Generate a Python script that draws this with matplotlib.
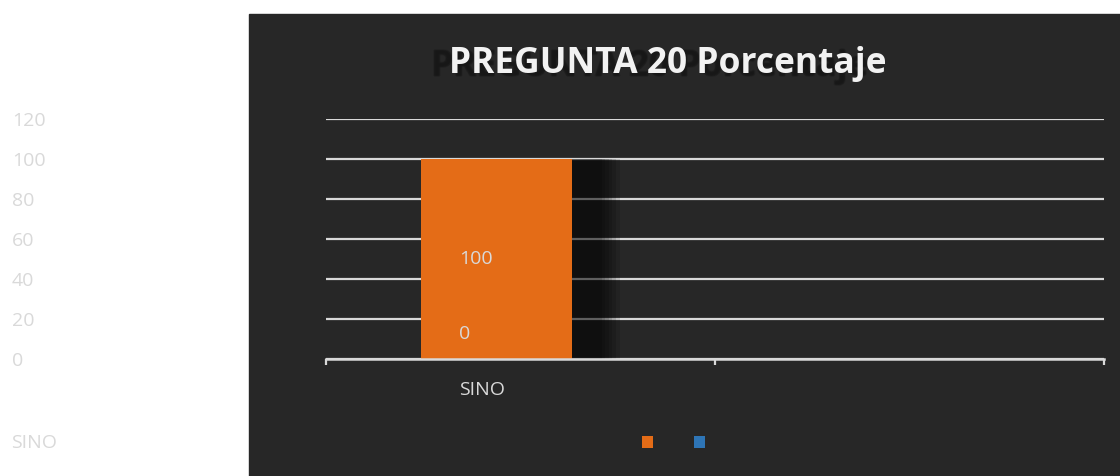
import matplotlib
matplotlib.use("Agg")
import matplotlib.pyplot as plt
from matplotlib.patches import Rectangle

# datos del grafico
categories = ["SINO"]
series_si = [100]
series_no = [0]
data_labels = ["100", "0"]
y_ticks = [0, 20, 40, 60, 80, 100, 120]
title = "PREGUNTA 20 Porcentaje"

ORANGE = "#E46C17"
BLUE = "#2E75B6"
PANEL = "#272727"
LIGHT = "#d9d9d9"

plt.rcParams["font.family"] = ["Open Sans", "DejaVu Sans"]

W, H = 1120, 476
fig = plt.figure(figsize=(W / 100, H / 100), dpi=100)

# panel oscuro
fig.patches.append(Rectangle((249 / W, 0), 1 - 249 / W, 462 / H,
                             transform=fig.transFigure, color=PANEL, zorder=0))

ax = fig.add_axes([326 / W, 117 / H, 778 / W, 240 / H])
ax.set_zorder(2)
ax.set_facecolor("none")
ax.set_xlim(0, 2)
ax.set_ylim(0, 120)

# barras
bar_w = 0.388
x0 = 0.438
bars_si = ax.bar([x0], series_si, width=bar_w, color=ORANGE, zorder=3, label=" ")
bars_no = ax.bar([x0 + bar_w], series_no, width=bar_w, color=BLUE, zorder=3, label=" ")

# sombra de la barra
left = x0 - bar_w / 2
for ext in [0.077, 0.086, 0.095, 0.104, 0.113, 0.123]:
    ax.bar([left], series_si, width=bar_w + ext, align="edge",
           color="black", alpha=0.125, zorder=2, linewidth=0)

# etiquetas de datos
ax.text(left + 0.098, series_si[0] / 2, data_labels[0], color=LIGHT,
        fontsize=14, ha="left", va="center", zorder=4)
ax.text(left + 0.098, series_si[0] / 8, data_labels[1], color=LIGHT,
        fontsize=14, ha="left", va="center", zorder=4)

# rejilla y ejes
ax.set_yticks(y_ticks)
ax.set_yticklabels([str(t) for t in y_ticks])
for lbl in ax.get_yticklabels():
    lbl.set_horizontalalignment("left")
ax.tick_params(axis="y", length=0, pad=226, labelsize=14, labelcolor=LIGHT)
ax.yaxis.grid(True, color=LIGHT, linewidth=1.6, zorder=1)
ax.set_axisbelow(True)

for s in ["top", "right", "left"]:
    ax.spines[s].set_visible(False)
ax.spines["bottom"].set_color(LIGHT)
ax.spines["bottom"].set_linewidth(1.8)
ax.spines["bottom"].set_zorder(5)

ax.set_xticks([0.40])
ax.set_xticklabels(categories)
ax.tick_params(axis="x", length=0, pad=16, labelsize=14, labelcolor=LIGHT)
ax.set_xticks([0, 1, 2], minor=True)
ax.tick_params(axis="x", which="minor", length=4.5, width=1.6, color=LIGHT)

# titulo con sombra
for dx, dy in [(-1, 0), (1, 0), (0, -1), (0, 1), (0, 0)]:
    fig.text((650 + dx) / W, 1 - (76 + dy) / H, title, fontsize=25.5,
             fontweight="bold", color="#151515", alpha=0.25,
             ha="center", va="baseline", zorder=1)
fig.text(668 / W, 1 - 73 / H, title, fontsize=25.5, fontweight="bold",
         color="#f2f2f2", ha="center", va="baseline", zorder=3)

# etiqueta de la izquierda
fig.text(11 / W, 1 - 443 / H, categories[0], color=LIGHT, fontsize=14,
         ha="left", va="center")

# leyenda sin texto
leg = fig.legend(handles=[bars_si, bars_no], labels=["", ""], ncol=2,
                 frameon=False, loc="center",
                 bbox_to_anchor=(677 / W, 1 - 443 / H), fontsize=10,
                 handlelength=0.8, handleheight=1.0, handletextpad=0.5,
                 columnspacing=2.45)
leg.set_zorder(3)

fig.savefig("out.png", dpi=100)
